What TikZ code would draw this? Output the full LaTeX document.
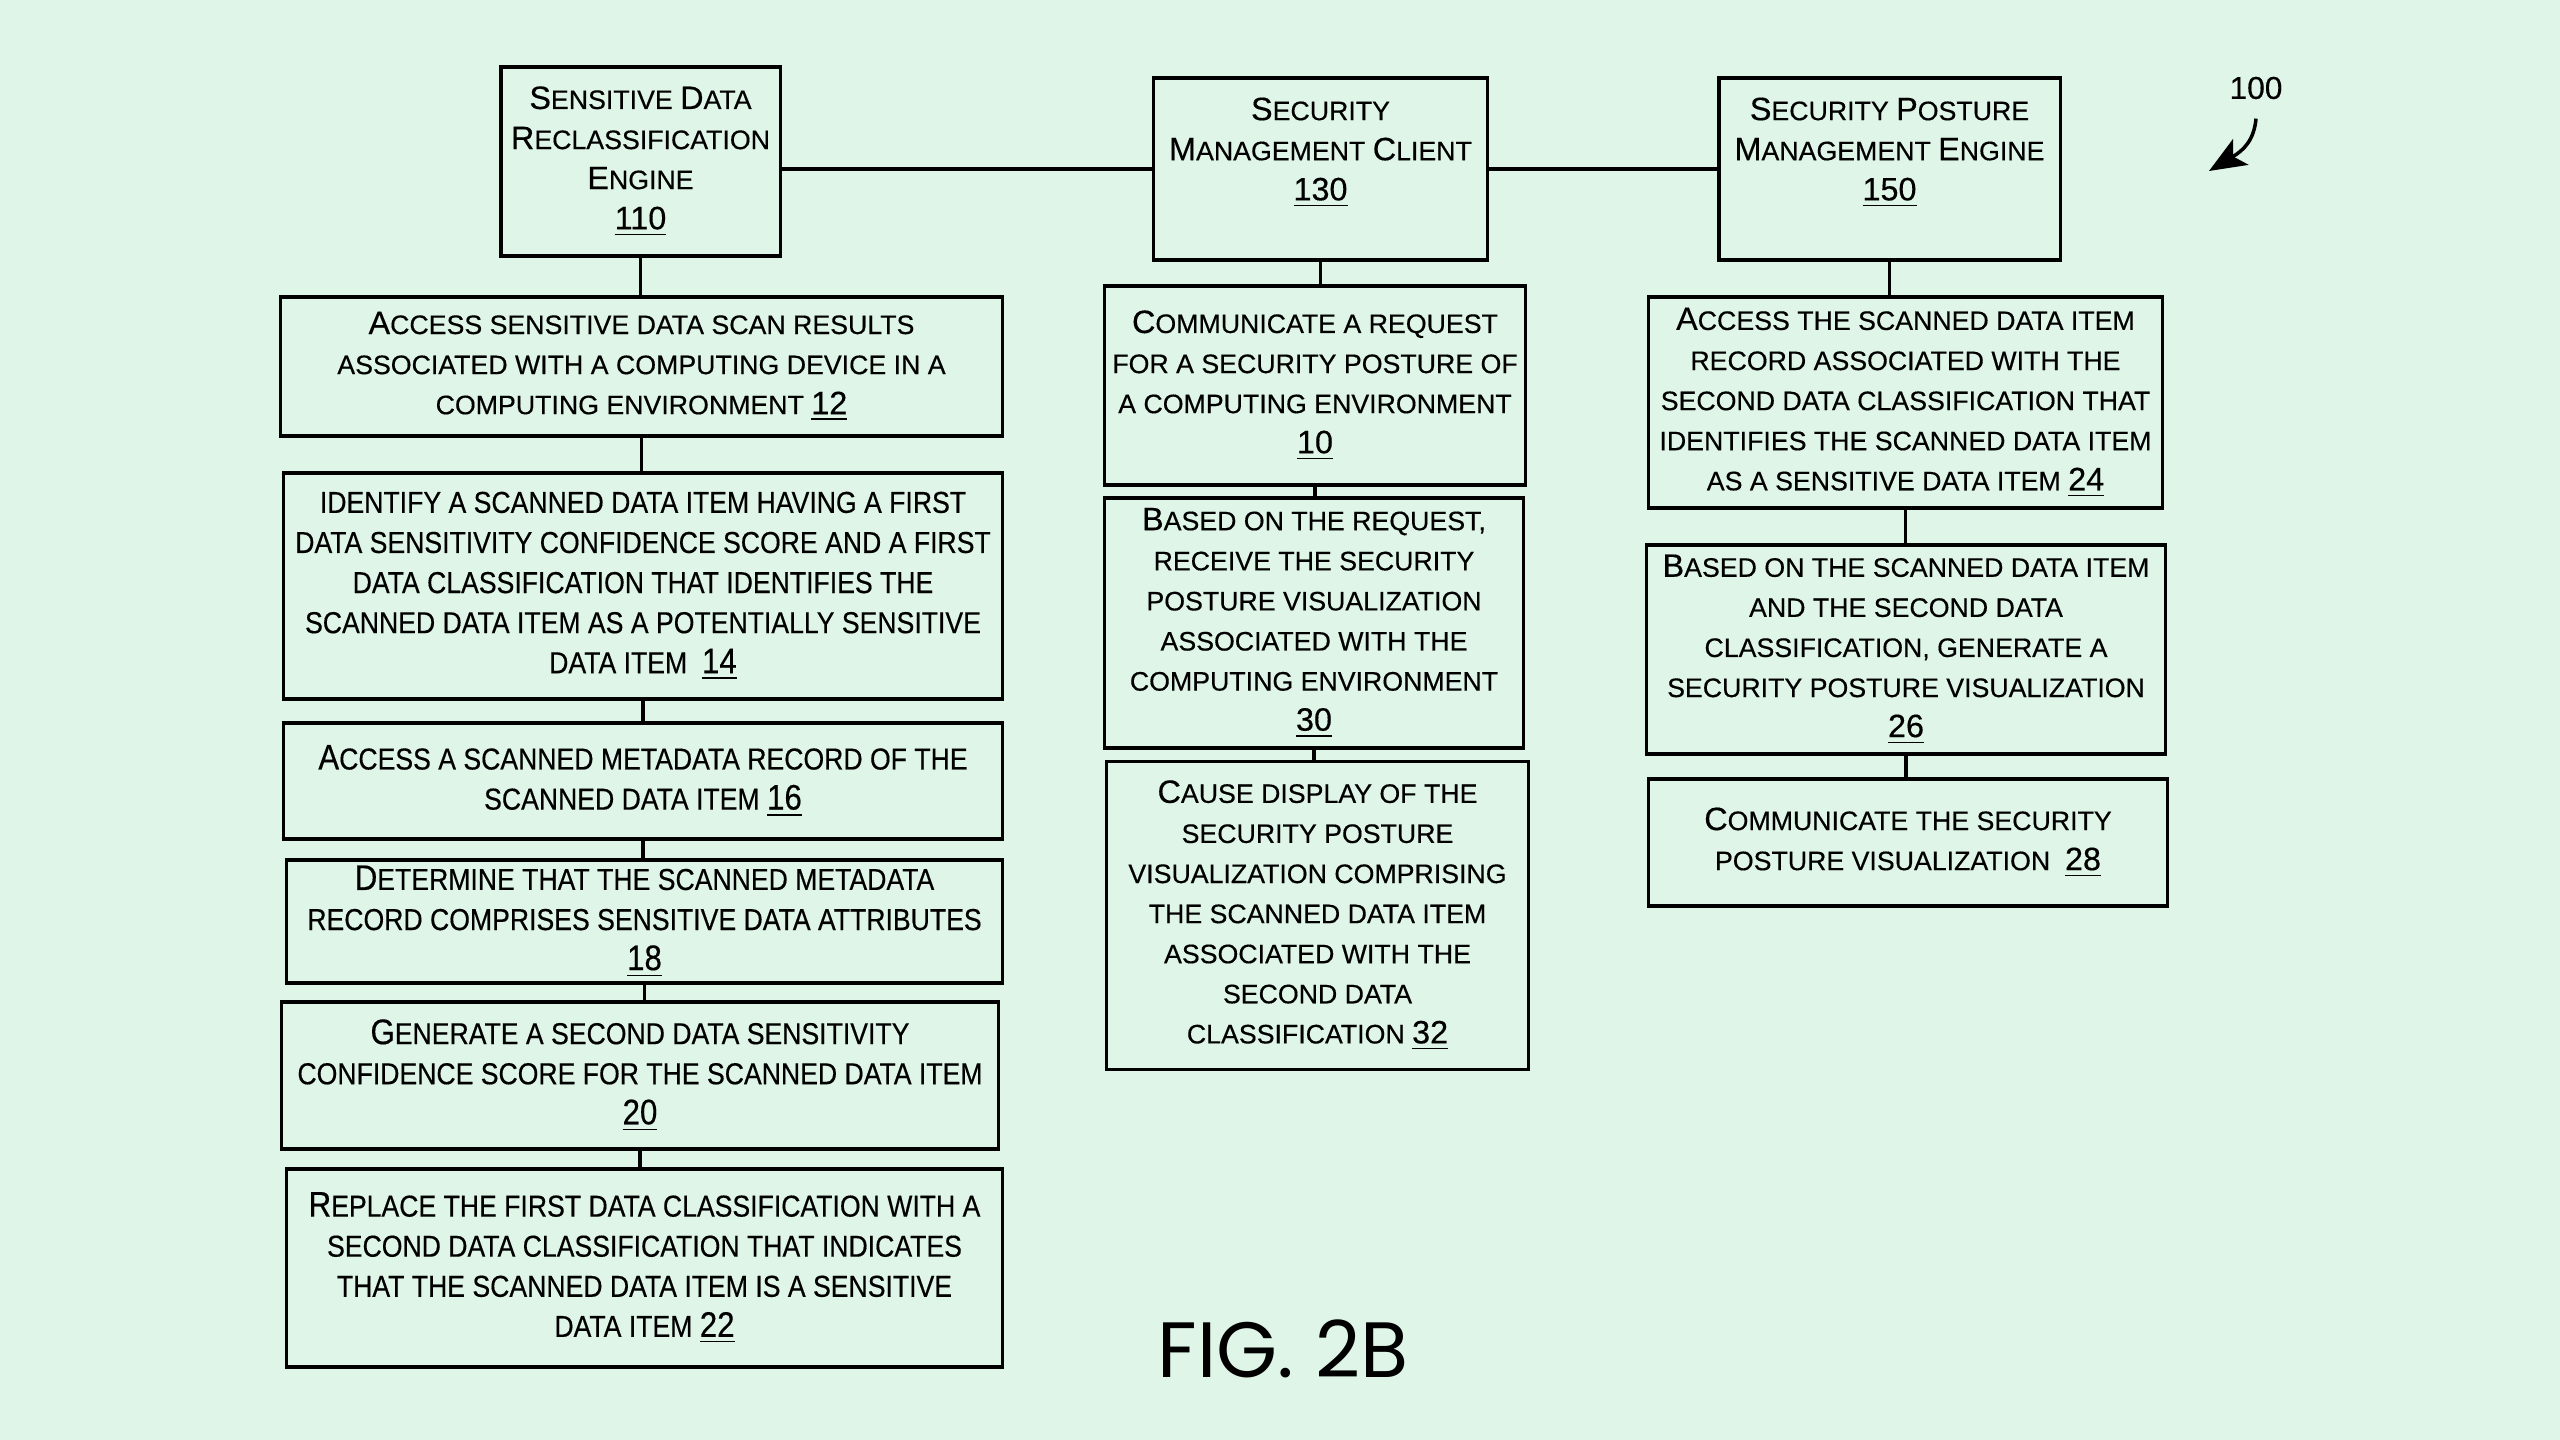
\documentclass[tikz,border=0pt]{standalone}
\usepackage{fontspec}
\setmainfont[FakeBold=0.4]{Liberation Sans}
\newfontfamily\narrowsans[FakeStretch=0.88,FakeBold=0.4]{Liberation Sans}
\newfontfamily\figfont{Poppins}
\usetikzlibrary{arrows,arrows.meta}

\definecolor{paper}{RGB}{223,245,231}
\def\capsz{9}
\newcommand\Cap[1]{{\fontsize{\capsz}{11.4}\selectfont #1}}
\newcommand\refno[1]{\underline{\Cap{#1}}}

\tikzset{
  block/.style={draw,line width=0.9pt,inner sep=0pt,align=center,
    font=\def\capsz{9.2}\fontsize{7.6}{11.4}\selectfont},
  narrowblock/.style={block,
    font=\narrowsans\def\capsz{10.1}\fontsize{8.6}{11.4}\selectfont},
  link/.style={line width=0.9pt}
}

\begin{document}
\begin{tikzpicture}[x=0.01cm,y=-0.01cm]
\fill[paper] (0,0) rectangle (2560,1440);
\useasboundingbox (0,0) rectangle (2560,1440);

% top row
\node[block,minimum width=2.79cm,minimum height=1.89cm] (eng110) at (640.5,161.5)
  {\Cap{S}ENSITIVE \Cap{D}ATA\\\Cap{R}ECLASSIFICATION\\\Cap{E}NGINE\\\refno{110}};
\node[block,minimum width=3.33cm,minimum height=1.82cm] (cli130) at (1320.5,169)
  {\Cap{S}ECURITY\\\Cap{M}ANAGEMENT \Cap{C}LIENT\\\refno{130}\\ };
\node[block,minimum width=3.41cm,minimum height=1.82cm] (spm150) at (1889.5,169)
  {\Cap{S}ECURITY \Cap{P}OSTURE\\\Cap{M}ANAGEMENT \Cap{E}NGINE\\\refno{150}\\ };

% left column
\node[block,minimum width=7.21cm,minimum height=1.39cm] (st12) at (641.5,366.5)
  {\Cap{A}CCESS SENSITIVE DATA SCAN RESULTS\\ASSOCIATED WITH A COMPUTING DEVICE IN A\\COMPUTING ENVIRONMENT \refno{12}};
\node[narrowblock,minimum width=7.18cm,minimum height=2.26cm] (st14) at (643,586)
  {IDENTIFY A SCANNED DATA ITEM HAVING A FIRST\\DATA SENSITIVITY CONFIDENCE SCORE AND A FIRST\\DATA CLASSIFICATION THAT IDENTIFIES THE\\SCANNED DATA ITEM AS A POTENTIALLY SENSITIVE\\DATA ITEM\ \ \refno{14}};
\node[narrowblock,minimum width=7.18cm,minimum height=1.16cm] (st16) at (643,781)
  {\Cap{A}CCESS A SCANNED METADATA RECORD OF THE\\SCANNED DATA ITEM \refno{16}};
\node[narrowblock,minimum width=7.15cm,minimum height=1.23cm] (st18) at (644.5,921.5)
  {\Cap{D}ETERMINE THAT THE SCANNED METADATA\\RECORD COMPRISES SENSITIVE DATA ATTRIBUTES\\\refno{18}};
\node[narrowblock,minimum width=7.16cm,minimum height=1.47cm] (st20) at (640,1075.5)
  {\Cap{G}ENERATE A SECOND DATA SENSITIVITY\\CONFIDENCE SCORE FOR THE SCANNED DATA ITEM\\\refno{20}};
\node[narrowblock,minimum width=7.15cm,minimum height=1.98cm] (st22) at (644.5,1268)
  {\Cap{R}EPLACE THE FIRST DATA CLASSIFICATION WITH A\\SECOND DATA CLASSIFICATION THAT INDICATES\\THAT THE SCANNED DATA ITEM IS A SENSITIVE\\DATA ITEM \refno{22}};

% middle column
\node[block,minimum width=4.2cm,minimum height=1.99cm] (st10) at (1315,385.5)
  {\Cap{C}OMMUNICATE A REQUEST\\FOR A SECURITY POSTURE OF\\A COMPUTING ENVIRONMENT\\\refno{10}};
\node[block,minimum width=4.18cm,minimum height=2.5cm] (st30) at (1314,623)
  {\Cap{B}ASED ON THE REQUEST,\\RECEIVE THE SECURITY\\POSTURE VISUALIZATION\\ASSOCIATED WITH THE\\COMPUTING ENVIRONMENT\\\refno{30}};
\node[block,minimum width=4.21cm,minimum height=3.07cm] (st32) at (1317.5,915.5)
  {\Cap{C}AUSE DISPLAY OF THE\\SECURITY POSTURE\\VISUALIZATION COMPRISING\\THE SCANNED DATA ITEM\\ASSOCIATED WITH THE\\SECOND DATA\\CLASSIFICATION \refno{32}};

% right column
\node[block,minimum width=5.13cm,minimum height=2.11cm] (st24) at (1905.5,402.5)
  {\Cap{A}CCESS THE SCANNED DATA ITEM\\RECORD ASSOCIATED WITH THE\\SECOND DATA CLASSIFICATION THAT\\IDENTIFIES THE SCANNED DATA ITEM\\AS A SENSITIVE DATA ITEM \refno{24}};
\node[block,minimum width=5.18cm,minimum height=2.09cm] (st26) at (1906,649.5)
  {\Cap{B}ASED ON THE SCANNED DATA ITEM\\AND THE SECOND DATA\\CLASSIFICATION, GENERATE A\\SECURITY POSTURE VISUALIZATION\\\refno{26}};
\node[block,minimum width=5.18cm,minimum height=1.27cm] (st28) at (1908,842.5)
  {\Cap{C}OMMUNICATE THE SECURITY\\POSTURE VISUALIZATION\ \ \refno{28}};

% connectors
\draw[link] (cli130.west) -- (cli130.west -| eng110.east);
\draw[link] (cli130.east) -- (spm150.west);
\foreach \a/\b in {eng110/st12,st12/st14,st14/st16,st16/st18,st18/st20,st20/st22,
                   cli130/st10,st10/st30,st30/st32,
                   spm150/st24,st24/st26,st26/st28}
  \draw[link] (\a.south) -- (\a.south |- \b.north);

% reference numeral and figure label
\node[font=\fontsize{9}{11}\selectfont] (lbl100) at (2256,88) {100};
\coordinate (tip100) at (2209,171);
\draw[-{Stealth[length=10.5pt,width=8.5pt,inset=2.5pt]},line width=1pt]
  ([yshift=-2pt]lbl100.south) .. controls (2254,140) and (2244,150) .. (tip100);

\node[font=\figfont\fontsize{22.3}{27}\selectfont] (fig) at (1283,1349) {FIG. 2B};
\end{tikzpicture}
\end{document}
